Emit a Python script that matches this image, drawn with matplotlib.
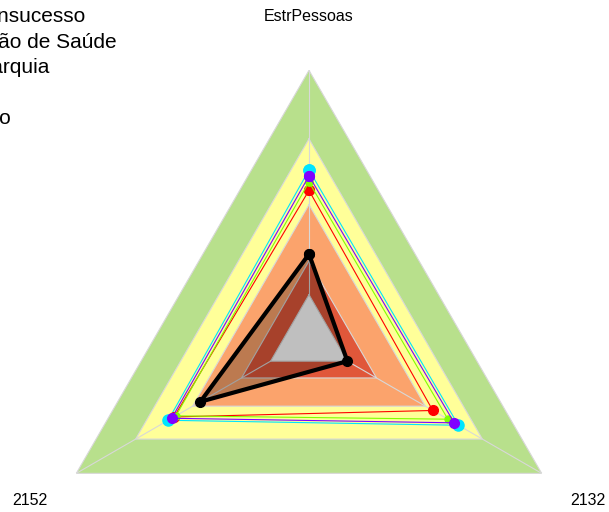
import numpy as np
import matplotlib
matplotlib.use('agg')
import matplotlib.pyplot as plt

plt.rcParams['font.family'] = ['Liberation Sans', 'DejaVu Sans']

# axes of the radar, clockwise from top
axes_labels = ["EstrPessoas", "2132", "2152"]

# background bands (outer limit of each band) and colours
band_limits = [100, 74.5, 50, 29, 16.5]
band_colors = ["#b8e08c", "#ffff99", "#fba36c", "#e0573a", "#ffffff"]

# series (values in the order of axes_labels)
series_names = ["Probabilidade de Insucesso", "Organização de Saúde", "Hierarquia",
                "Risco", "Centro"]
s_cyan = [62.9, 64.2, 60.5]
s_purple = [60.7, 62.4, 59.0]
s_green = [58.4, 59.7, 57.2]
s_red = [55.3, 53.2, 58.0]
s_black = [31.6, 16.5, 46.7]

W, H, DPI = 609, 512, 100
fig = plt.figure(figsize=(W / DPI, H / DPI), dpi=DPI)

cx, cy, R = 309, 339, 268.7
ax = fig.add_axes([(cx - R) / W, (H - cy - R) / H, 2 * R / W, 2 * R / H], projection='polar')
ax.set_theta_offset(np.pi / 2)
ax.set_theta_direction(-1)
ax.set_ylim(0, 100)
ax.axis('off')

n = len(axes_labels)
ang = np.linspace(0, 2 * np.pi, n, endpoint=False)
ang_c = np.append(ang, ang[0])

def closed(v):
    return np.append(v, v[0])

# bands
for lim, col in zip(band_limits, band_colors):
    ax.fill(ang_c, [lim] * (n + 1), color=col, lw=0, zorder=1)
    ax.plot(ang_c, [lim] * (n + 1), color="#d8d8d8", lw=0.8, zorder=2)
for a in ang:
    ax.plot([a, a], [band_limits[-1], 100], color="#d8d8d8", lw=0.8, zorder=2)

# series
ax.plot(ang_c, closed(s_cyan), color="#00e5ff", lw=0.8, marker='o', ms=8, zorder=4)
ax.plot(ang_c, closed(s_red), color="#ff0000", lw=0.8, marker='o', ms=7, zorder=5)
ax.plot(ang_c, closed(s_green), color="#80ff00", lw=0.8, marker='o', ms=5, zorder=6)
ax.plot(ang_c, closed(s_purple), color="#8000ff", lw=0.8, marker='o', ms=7, zorder=7)
ax.fill(ang_c, closed(s_black), color="black", alpha=0.25, lw=0, zorder=3)
ax.plot(ang_c, closed(s_black), color="black", lw=3, marker='o', ms=7, zorder=8)

# axis labels
for a, lab in zip(ang, axes_labels):
    ax.text(a, 120, lab, ha='center', va='center', fontsize=11.5, clip_on=False)

# legend text, cut off at the left edge of the picture
leg_right = [85, 117, 50, -5, 11]
leg_base = [22.5, 48, 73, 98, 124]
for name, xr, yb in zip(series_names, leg_right, leg_base):
    fig.text(xr / W, 1 - yb / H, name, ha='right', va='baseline', fontsize=15)

fig.savefig("out.png", dpi=DPI)
